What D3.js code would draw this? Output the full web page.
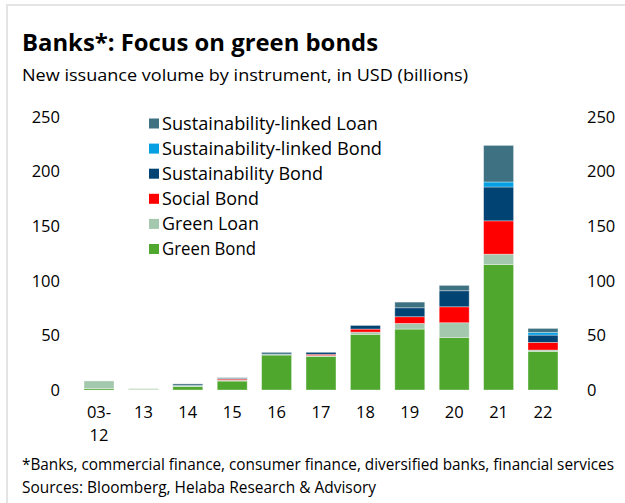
<!DOCTYPE html>
<html>
<head>
<meta charset="utf-8">
<script src="https://cdn.jsdelivr.net/npm/d3@7"></script>
<style>
  body { margin: 0; background: #fff; }
  svg { display: block; font-family: "Open Sans", "Noto Sans", sans-serif; }
</style>
</head>
<body>
<div id="chart"></div>
<script>
const categories = ["03-12", "13", "14", "15", "16", "17", "18", "19", "20", "21", "22"];
const seriesNames = ["Green Bond", "Green Loan", "Social Bond", "Sustainability Bond",
  "Sustainability-linked Bond", "Sustainability-linked Loan"];
const greenBond     = [1.3, 0.4, 3.3, 8.2, 32.0, 30.8, 51.0, 55.8, 48.2, 115.0, 35.4];
const greenLoan     = [7.0, 0.9, 0.5, 0.8, 0.5, 0.7, 2.0, 5.2, 13.4, 9.4, 1.2];
const socialBond    = [0, 0, 0, 1.0, 0, 1.2, 2.8, 6.1, 14.6, 30.5, 7.0];
const sustainBond   = [0, 0, 0.3, 0.5, 0.3, 1.8, 3.4, 8.2, 14.7, 31.0, 6.7];
const slBond        = [0, 0, 0, 0, 0, 0, 0, 0, 0, 4.6, 2.5];
const slLoan        = [0, 0, 1.5, 0.8, 1.7, 0, 0.3, 5.2, 4.9, 33.5, 3.6];
const yTicks = [0, 50, 100, 150, 200, 250];

const colors = ["#4fa72e", "#a3c8ae", "#ff0000", "#014372", "#04a0e2", "#3e7283"];

const W = 625, H = 503;
const svg = d3.select("#chart").append("svg").attr("width", W).attr("height", H);

// frame lines (top + left only)
svg.append("line").attr("x1", 7).attr("x2", W).attr("y1", 5).attr("y2", 5)
  .attr("stroke", "#e4e4e4").attr("stroke-width", 2);
svg.append("line").attr("x1", 7).attr("x2", 7).attr("y1", 4).attr("y2", H)
  .attr("stroke", "#e4e4e4").attr("stroke-width", 2);

// squeeze/stretch text to the width it has in the original
function fitText(sel, width) {
  return sel.attr("textLength", width).attr("lengthAdjust", "spacingAndGlyphs");
}

// === Title ===
fitText(svg.append("text").attr("x", 22).attr("y", 51)
  .style("font-size", "23px").style("font-weight", "bold").attr("fill", "#000")
  .text("Banks*: Focus on green bonds"), 356);
fitText(svg.append("text").attr("x", 22).attr("y", 81)
  .style("font-size", "16.5px").attr("fill", "#000")
  .text("New issuance volume by instrument, in USD (billions)"), 446);

// === Scales ===
const x = d3.scaleBand().domain(categories).range([69.6, 572.4]).padding(0.325);
const y = d3.scaleLinear().domain([0, 250]).range([390, 117]);

const table = categories.map((c, i) => ({
  cat: c,
  "Green Bond": greenBond[i],
  "Green Loan": greenLoan[i],
  "Social Bond": socialBond[i],
  "Sustainability Bond": sustainBond[i],
  "Sustainability-linked Bond": slBond[i],
  "Sustainability-linked Loan": slLoan[i]
}));
const stacked = d3.stack().keys(seriesNames)(table);

// === Bars ===
svg.append("g").selectAll("g")
  .data(stacked)
  .join("g")
  .attr("fill", (d, i) => colors[i])
  .selectAll("rect")
  .data(d => d.filter(s => s[1] - s[0] > 0))
  .join("rect")
  .attr("x", d => x(d.data.cat))
  .attr("width", x.bandwidth())
  .attr("y", d => y(d[1]))
  .attr("height", d => y(d[0]) - y(d[1]))
  .attr("stroke", "#fff")
  .attr("stroke-opacity", 0.45)
  .attr("stroke-width", 0.8);

// === Axes ===
const leftAxis = svg.append("g").attr("transform", "translate(60,0)")
  .call(d3.axisLeft(y).tickValues(yTicks).tickSize(0).tickPadding(0));
const rightAxis = svg.append("g").attr("transform", "translate(587,0)")
  .call(d3.axisRight(y).tickValues(yTicks).tickSize(0).tickPadding(0));
[leftAxis, rightAxis].forEach(a => {
  a.select(".domain").remove();
  a.selectAll("text").style("font-size", "16.5px").attr("fill", "#000")
    .style("font-family", "'Open Sans', sans-serif");
});

const xAxis = svg.append("g").attr("transform", "translate(0,390)")
  .call(d3.axisBottom(x).tickSize(0).tickPadding(0));
xAxis.select(".domain").remove();
xAxis.selectAll("text").remove();
xAxis.selectAll(".tick").each(function (d) {
  const parts = d.includes("-") ? [d.split("-")[0] + "-", d.split("-")[1]] : [d];
  const t = d3.select(this).append("text").attr("text-anchor", "middle")
    .attr("fill", "#000").style("font-size", "16.5px")
    .style("font-family", "'Open Sans', sans-serif");
  parts.forEach((p, i) => {
    t.append("tspan").attr("x", 0).attr("y", 28 + i * 23).text(p);
  });
});

// === Legend ===
const legendWidths = [94, 97, 97, 161, 220, 216];
const legend = svg.append("g").attr("transform", "translate(149,0)");
seriesNames.forEach((name, i) => {
  const row = 5 - i;
  const cy = 123.5 + row * 25.1;
  legend.append("rect").attr("x", 0).attr("y", cy - 5).attr("width", 10).attr("height", 10)
    .attr("fill", colors[i]);
  fitText(legend.append("text").attr("x", 13).attr("y", cy + 6)
    .style("font-size", "17.5px").attr("fill", "#000").text(name), legendWidths[i]);
});

// === Footnotes ===
fitText(svg.append("text").attr("x", 22).attr("y", 470)
  .style("font-size", "15.5px").attr("fill", "#000")
  .text("*Banks, commercial finance, consumer finance, diversified banks, financial services"), 592);
fitText(svg.append("text").attr("x", 22).attr("y", 493)
  .style("font-size", "15.5px").attr("fill", "#000")
  .text("Sources: Bloomberg, Helaba Research & Advisory"), 354);
</script>
</body>
</html>
